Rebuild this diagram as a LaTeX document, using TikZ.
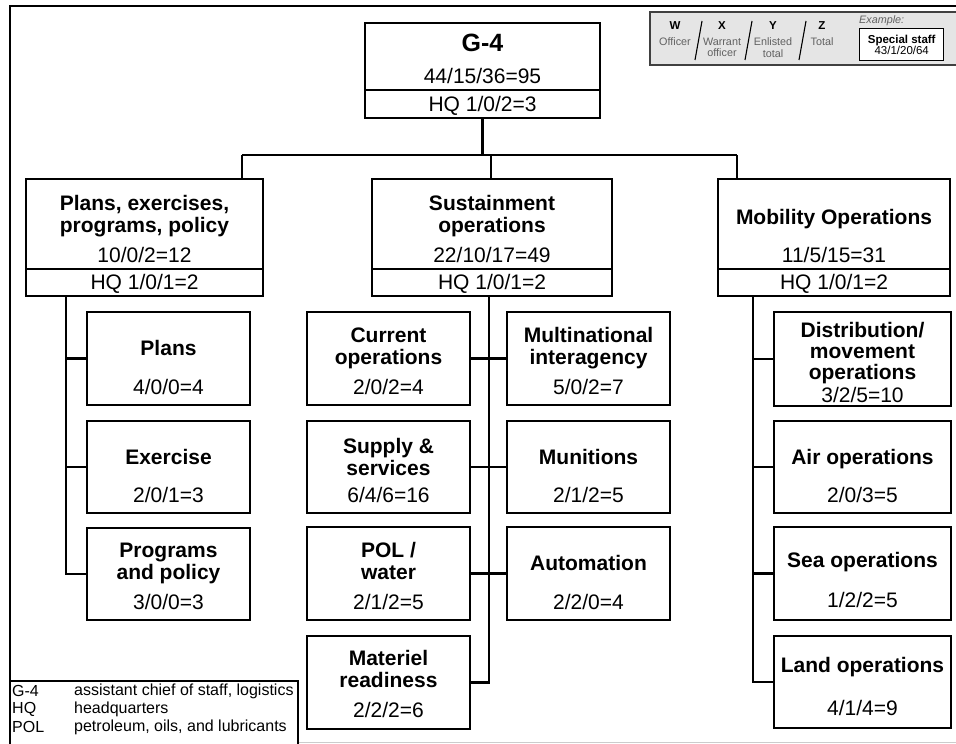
\documentclass[tikz,border=0pt]{standalone}
\usepackage{fontspec}
\setmainfont{Liberation Sans}
\usetikzlibrary{calc}

\begin{document}
\begin{tikzpicture}[x=1pt,y=-1pt,
  unit/.style={draw, line width=2.2pt, inner sep=0pt, outer sep=0pt, anchor=north west},
  link/.style={line width=2.2pt},
  ttl/.style={anchor=north, inner sep=0pt, align=center, font=\fontsize{21}{22}\selectfont\bfseries},
  num/.style={anchor=north, inner sep=0pt, font=\fontsize{21}{22}\selectfont},
  keyhead/.style={inner sep=0pt, font=\fontsize{11.5}{12}\selectfont\bfseries},
  keytext/.style={inner sep=0pt, align=center, text=black!62, font=\fontsize{10.8}{11.5}\selectfont},
  legend/.style={anchor=west, inner sep=0pt, font=\fontsize{16}{18}\selectfont},
]
\useasboundingbox (0,0) rectangle (956,744);
\clip (0,0) rectangle (956,744);

% sheet frame
\draw[line width=2.6pt] (10,760) -- (10,6) -- (970,6);
\draw[black!20, line width=1pt] (10,742.5) -- (970,742.5);

% key to the staff figures
\draw[fill=black!10, draw=black!75, line width=1.3pt] (650,12) rectangle (970,65);
\foreach \sx in {695,745,799}
  \draw[line width=1.1pt] (\sx,60) -- (\sx+7,21);
\node[keyhead] (kw) at (675,26) {W};
\node[keytext] (kwt) at (675,42) {Officer};
\node[keyhead] (kx) at (722,26) {X};
\node[keytext] (kxt) at (722,47.5) {Warrant\\officer};
\node[keyhead] (ky) at (773,26) {Y};
\node[keytext] (kyt) at (773,47.5) {Enlisted\\total};
\node[keyhead] (kz) at (822,26) {Z};
\node[keytext] (kzt) at (822,42) {Total};
\node[keytext, anchor=west, font=\fontsize{10.8}{11.5}\selectfont\itshape] (kex) at (859,21) {Example:};
\node[draw, line width=1.4pt, fill=white, minimum width=84pt, minimum height=32pt,
      inner sep=0pt, anchor=north west] (kbox) at (859,28) {};
\node[keyhead, align=center] (kbt) at (kbox.center)
  {Special staff\\[-1.5pt]\mdseries 43/1/20/64};

% G-4
\node[unit, minimum width=235pt, minimum height=95pt] (g4) at (365,23) {};
\draw[link] ($(g4.south west)+(0,-28)$) -- ($(g4.south east)+(0,-28)$);
\node[ttl, font=\fontsize{25}{26}\selectfont\bfseries] (g4t) at (482.5,34) {G-4};
\node[num] (g4n) at (482.5,68.5) {44/15/36=95};
\node[num] (g4h) at (482.5,96.5) {HQ 1/0/2=3};

% divisions
\node[unit, minimum width=237pt, minimum height=117pt] (pex) at (26,179) {};
\node[unit, minimum width=240pt, minimum height=117pt] (sus) at (372,179) {};
\node[unit, minimum width=232pt, minimum height=117pt] (mob) at (718,179) {};
\foreach \d in {pex,sus,mob}
  \draw[link] ($(\d.south west)+(0,-27)$) -- ($(\d.south east)+(0,-27)$);

\node[ttl] (pext) at (144.5,195.5) {Plans, exercises,\\programs, policy};
\node[num] (pexn) at (144.5,247.5) {10/0/2=12};
\node[num] (pexh) at (144.5,274.5) {HQ 1/0/1=2};
\node[ttl] (sust) at (492,195.5) {Sustainment\\operations};
\node[num] (susn) at (492,247.5) {22/10/17=49};
\node[num] (sush) at (492,274.5) {HQ 1/0/1=2};
\node[ttl] (mobt) at (834,209.5) {Mobility Operations};
\node[num] (mobn) at (834,247.5) {11/5/15=31};
\node[num] (mobh) at (834,274.5) {HQ 1/0/1=2};

% branches: plans, exercises, programs, policy
\node[unit, minimum width=163pt, minimum height=93pt] (pln) at (87,312) {};
\node[unit, minimum width=163pt, minimum height=92pt] (exr) at (87,421) {};
\node[unit, minimum width=163pt, minimum height=92pt] (prg) at (87,528) {};
\node[ttl] (plnt) at (168.5,340.5) {Plans};
\node[num] (plnn) at (168.5,379.5) {4/0/0=4};
\node[ttl] (exrt) at (168.5,449.5) {Exercise};
\node[num] (exrn) at (168.5,487.5) {2/0/1=3};
\node[ttl] (prgt) at (168.5,542.5) {Programs\\and policy};
\node[num] (prgn) at (168.5,594.5) {3/0/0=3};

% branches: sustainment operations
\node[unit, minimum width=163pt, minimum height=93pt] (cur) at (307,312) {};
\node[unit, minimum width=163pt, minimum height=92pt] (sup) at (307,421) {};
\node[unit, minimum width=163pt, minimum height=93pt] (pol) at (307,527) {};
\node[unit, minimum width=163pt, minimum height=93pt] (mat) at (307,636) {};
\node[unit, minimum width=163pt, minimum height=93pt] (mni) at (507,312) {};
\node[unit, minimum width=163pt, minimum height=92pt] (mun) at (507,421) {};
\node[unit, minimum width=163pt, minimum height=93pt] (aut) at (507,527) {};
\node[ttl] (curt) at (388.5,327.5) {Current\\operations};
\node[num] (curn) at (388.5,379.5) {2/0/2=4};
\node[ttl] (supt) at (388.5,438.5) {Supply \&\\services};
\node[num] (supn) at (388.5,487.5) {6/4/6=16};
\node[ttl] (polt) at (388.5,542.5) {POL /\\water};
\node[num] (poln) at (388.5,594.5) {2/1/2=5};
\node[ttl] (matt) at (388.5,650.5) {Materiel\\readiness};
\node[num] (matn) at (388.5,702.5) {2/2/2=6};
\node[ttl] (mnit) at (588.5,327.5) {Multinational\\interagency};
\node[num] (mnin) at (588.5,379.5) {5/0/2=7};
\node[ttl] (munt) at (588.5,449.5) {Munitions};
\node[num] (munn) at (588.5,487.5) {2/1/2=5};
\node[ttl] (autt) at (588.5,555.5) {Automation};
\node[num] (autn) at (588.5,594.5) {2/2/0=4};

% branches: mobility operations
\node[unit, minimum width=177pt, minimum height=94pt] (dst) at (774,312) {};
\node[unit, minimum width=177pt, minimum height=92pt] (air) at (774,421) {};
\node[unit, minimum width=177pt, minimum height=93pt] (sea) at (774,527) {};
\node[unit, minimum width=177pt, minimum height=92pt] (lnd) at (774,636) {};
\node[ttl, font=\fontsize{21}{21}\selectfont\bfseries] (dstt) at (862.5,322.5)
  {Distribution/\\movement\\operations};
\node[num] (dstn) at (862.5,387.5) {3/2/5=10};
\node[ttl] (airt) at (862.5,449.5) {Air operations};
\node[num] (airn) at (862.5,487.5) {2/0/3=5};
\node[ttl] (seat) at (862.5,552.5) {Sea operations};
\node[num] (sean) at (862.5,592.5) {1/2/2=5};
\node[ttl] (lndt) at (862.5,657.5) {Land operations};
\node[num] (lndn) at (862.5,700.5) {4/1/4=9};

% connectors from G-4 to the divisions
\coordinate (bus) at (0,155);
\coordinate (dropP) at (242,155);
\coordinate (dropS) at (491,155);
\coordinate (dropM) at (737,155);
\draw[link] (g4.south) -- (g4.south |- bus);
\draw[link] (dropP) -- (dropM);
\draw[link] (dropP) -- (dropP |- pex.north);
\draw[link] (dropS) -- (dropS |- sus.north);
\draw[link] (dropM) -- (dropM |- mob.north);

% connectors inside the divisions
\coordinate (spineP) at (66,0);
\coordinate (spineS) at (489,0);
\coordinate (spineM) at (753,0);
\draw[link] (spineP |- pex.south) -- (spineP |- prg.west) -- (prg.west);
\draw[link] (spineP |- pln.west) -- (pln.west);
\draw[link] (spineP |- exr.west) -- (exr.west);

\draw[link] (spineS |- sus.south) -- (spineS |- mat.east) -- (mat.east);
\draw[link] (cur.east) -- (cur.east -| mni.west);
\draw[link] (sup.east) -- (sup.east -| mun.west);
\draw[link] (pol.east) -- (pol.east -| aut.west);

\draw[link] (spineM |- mob.south) -- (spineM |- lnd.west) -- (lnd.west);
\draw[link] (spineM |- dst.west) -- (dst.west);
\draw[link] (spineM |- air.west) -- (air.west);
\draw[link] (spineM |- sea.west) -- (sea.west);

% abbreviations
\draw[line width=1.8pt, fill=white] (10,681) rectangle (298,760);
\node[legend] (ag4) at (12,691) {G-4};
\node[legend] (ahq) at (12,709) {HQ};
\node[legend] (apol) at (12,727) {POL};
\node[legend] (ag4d) at (74,691) {assistant chief of staff, logistics};
\node[legend] (ahqd) at (74,709) {headquarters};
\node[legend] (apold) at (74,727) {petroleum, oils, and lubricants};
\end{tikzpicture}
\end{document}
